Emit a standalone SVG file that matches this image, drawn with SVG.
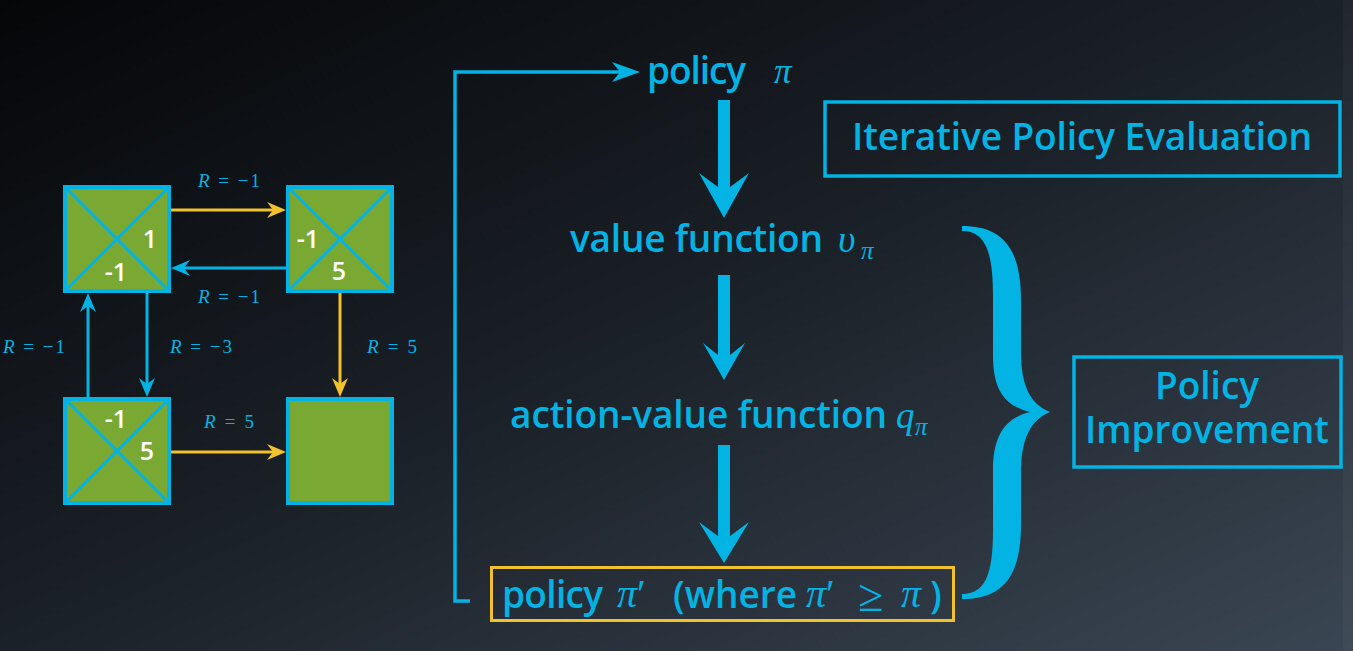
<svg xmlns="http://www.w3.org/2000/svg" width="1353" height="651" viewBox="0 0 1353 651">
  <defs>
    <linearGradient id="bg" x1="0" y1="0" x2="1" y2="1">
      <stop offset="0" stop-color="#050608"/>
      <stop offset="0.5" stop-color="#1b2128"/>
      <stop offset="1" stop-color="#3a4653"/>
    </linearGradient>
    <marker id="ah-cyan" markerUnits="userSpaceOnUse" markerWidth="24" markerHeight="20" viewBox="-20 -10 24 20" refX="-13" refY="0" orient="auto" overflow="visible">
      <path d="M0,0 L-19,-8 L-13,0 L-19,8 Z" fill="#02b3e4"/>
    </marker>
    <marker id="ah-yellow" markerUnits="userSpaceOnUse" markerWidth="24" markerHeight="20" viewBox="-20 -10 24 20" refX="-13" refY="0" orient="auto" overflow="visible">
      <path d="M0,0 L-19,-8 L-13,0 L-19,8 Z" fill="#f2c12e"/>
    </marker>
    <marker id="ah-loop" markerUnits="userSpaceOnUse" markerWidth="32" markerHeight="24" viewBox="-30 -12 32 24" refX="-20" refY="0" orient="auto" overflow="visible">
      <path d="M0,0 L-28,-10 L-20,0 L-28,10 Z" fill="#02b3e4"/>
    </marker>
  </defs>
  <style>
    .txt{font-family:"Open Sans","Liberation Sans",sans-serif;font-weight:600;font-size:37px;fill:#02b3e4}
    .num{font-family:"Open Sans","Liberation Sans",sans-serif;font-weight:600;font-size:25px;fill:#ffffff;text-anchor:middle}
    .m{font-family:"Liberation Serif","DejaVu Serif",serif;font-style:italic;fill:#02b3e4}
    .lbl{font-family:"Liberation Serif","DejaVu Serif",serif;font-size:19px;fill:#02b3e4}
    .cell{fill:#79a933;stroke:#02b3e4;stroke-width:4}
    .diag{stroke:#02b3e4;stroke-width:3}
    .c{stroke:#02b3e4;stroke-width:3;fill:none}
    .y{stroke:#f2c12e;stroke-width:3;fill:none}
    .box{fill:none;stroke:#02b3e4;stroke-width:3.5}
    .big{fill:#02b3e4}
  </style>

  <!-- backdrop -->
  <rect x="0" y="0" width="1353" height="651" fill="url(#bg)"/>
  <rect x="1343" y="0" width="10" height="651" fill="#ffffff" opacity="0.03"/>

  <!-- grid world states -->
  <g id="state-tl">
    <rect class="cell" x="65" y="187" width="104" height="104"/>
    <line class="diag" x1="65" y1="187" x2="169" y2="291"/>
    <line class="diag" x1="169" y1="187" x2="65" y2="291"/>
    <text class="num" x="150" y="248">1</text>
    <text class="num" x="116" y="281">-1</text>
  </g>
  <g id="state-tr">
    <rect class="cell" x="288" y="187" width="104" height="104"/>
    <line class="diag" x1="288" y1="187" x2="392" y2="291"/>
    <line class="diag" x1="392" y1="187" x2="288" y2="291"/>
    <text class="num" x="308" y="248">-1</text>
    <text class="num" x="339" y="280">5</text>
  </g>
  <g id="state-bl">
    <rect class="cell" x="65" y="399" width="104" height="104"/>
    <line class="diag" x1="65" y1="399" x2="169" y2="503"/>
    <line class="diag" x1="169" y1="399" x2="65" y2="503"/>
    <text class="num" x="116" y="428">-1</text>
    <text class="num" x="147" y="460">5</text>
  </g>
  <g id="state-br">
    <rect class="cell" x="288" y="399" width="104" height="104"/>
  </g>

  <!-- transitions and flow connectors -->
  <g id="connectors">
    <line class="y" x1="171" y1="210" x2="273" y2="210" marker-end="url(#ah-yellow)"/>
    <line class="c" x1="286" y1="268" x2="184" y2="268" marker-end="url(#ah-cyan)"/>
    <line class="c" x1="147" y1="293" x2="147" y2="384" marker-end="url(#ah-cyan)"/>
    <line class="c" x1="88" y1="397" x2="88" y2="306" marker-end="url(#ah-cyan)"/>
    <line class="y" x1="340" y1="293" x2="340" y2="384" marker-end="url(#ah-yellow)"/>
    <line class="y" x1="171" y1="452" x2="273" y2="452" marker-end="url(#ah-yellow)"/>

    <path class="c" style="stroke-width:3.5" d="M470,601 H455 V72 H620" marker-end="url(#ah-loop)"/>

    <path class="big" d="M718,100 H730 V187 L749,173 L724,218 L699,173 L718,187 Z"/>
    <path class="big" d="M718,275 H730 V355 L745,343 L724,380 L703,343 L718,355 Z"/>
    <path class="big" d="M718,445 H730 V536 L749,522 L724,563 L699,522 L718,536 Z"/>

    <path class="big" d="M962,226 C1000,226 1021,245 1021,300 L1021,352 C1021,385 1030,404 1050,412 C1030,420 1021,440 1021,473 L1021,525 C1021,580 1000,599 962,599 L962,594 C985,594 993,575 993,530 L993,470 C993,436 1005,418 1030,412 C1005,406 993,390 993,356 L993,296 C993,251 985,231 962,231 Z"/>
  </g>

  <!-- reward labels -->
  <g id="rewards">
    <text class="lbl" x="198" y="187" textLength="62"><tspan font-style="italic">R</tspan> = −1</text>
    <text class="lbl" x="198" y="303" textLength="62"><tspan font-style="italic">R</tspan> = −1</text>
    <text class="lbl" x="3" y="353" textLength="62"><tspan font-style="italic">R</tspan> = −1</text>
    <text class="lbl" x="170" y="353" textLength="62"><tspan font-style="italic">R</tspan> = −3</text>
    <text class="lbl" x="367" y="353" textLength="50"><tspan font-style="italic">R</tspan> = 5</text>
    <text class="lbl" x="204" y="428" textLength="50"><tspan font-style="italic">R</tspan> = 5</text>
  </g>

  <g id="node-policy">
    <text class="txt" x="647" y="84" textLength="99">policy</text>
    <text class="m" x="774" y="83" font-size="35">π</text>
  </g>

  <g id="node-value">
    <text class="txt" x="570" y="252" textLength="253">value function</text>
    <text class="m" x="838" y="252" font-size="38">υ</text>
    <text class="m" x="861" y="259" font-size="25">π</text>
  </g>

  <g id="node-action-value">
    <text class="txt" x="510" y="428" textLength="377">action-value function</text>
    <text class="m" x="896" y="428" font-size="37">q</text>
    <text class="m" x="915" y="435" font-size="25">π</text>
  </g>

  <g id="node-new-policy">
    <rect x="491.5" y="567.5" width="462" height="53" fill="none" stroke="#f2c12e" stroke-width="3"/>
    <text class="txt" x="502" y="608" textLength="101">policy</text>
    <text class="m" x="617" y="607" font-size="40">π<tspan font-style="normal">′</tspan></text>
    <text class="txt" x="673" y="608" textLength="124">(where</text>
    <text class="m" x="806" y="607" font-size="40">π<tspan font-style="normal">′</tspan></text>
    <text class="m" x="858" y="611" font-size="46" font-style="normal">≥</text>
    <text class="m" x="901" y="607" font-size="40">π</text>
    <text class="txt" x="930" y="608">)</text>
  </g>

  <g id="node-evaluation">
    <rect class="box" x="825" y="102" width="515" height="74"/>
    <text class="txt" x="852" y="150" textLength="460">Iterative Policy Evaluation</text>
  </g>

  <g id="node-improvement">
    <rect class="box" x="1074" y="357" width="267" height="110"/>
    <text class="txt" text-anchor="middle"><tspan x="1207" y="399">Policy</tspan><tspan x="1207" y="443">Improvement</tspan></text>
  </g>
</svg>
